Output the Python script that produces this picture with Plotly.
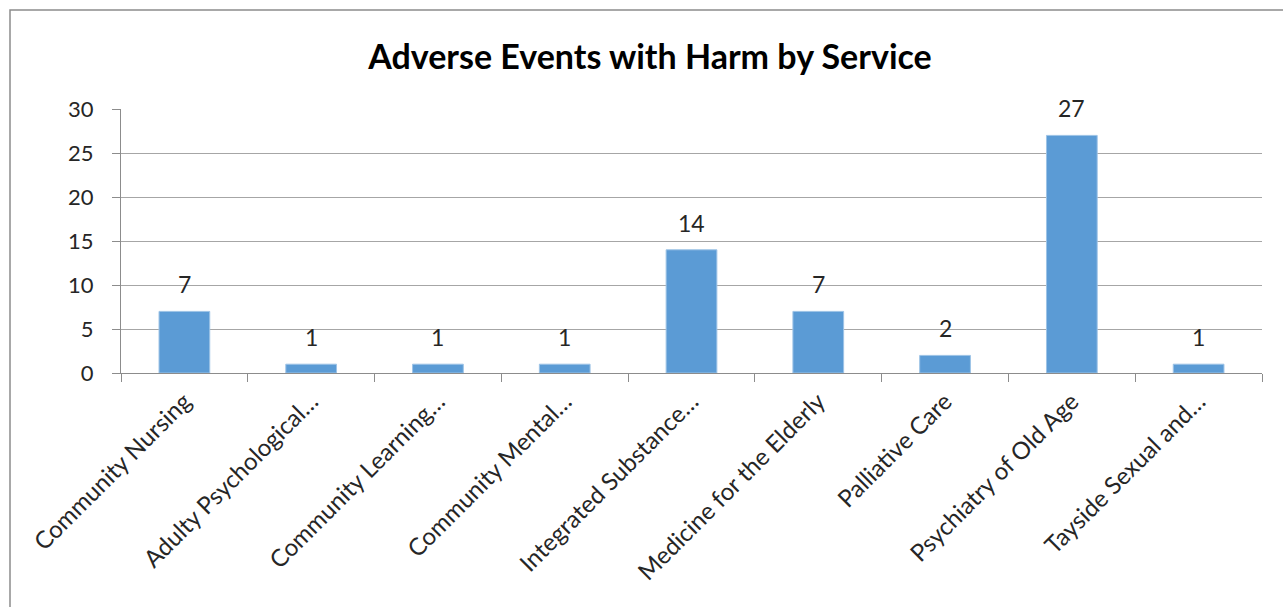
import plotly.graph_objects as go

categories = [
    "Community Nursing",
    "Adulty Psychological…",
    "Community Learning…",
    "Community Mental…",
    "Integrated Substance…",
    "Medicine for the Elderly",
    "Palliative Care",
    "Psychiatry of Old Age",
    "Tayside Sexual and…",
]
values = [7, 1, 1, 1, 14, 7, 2, 27, 1]
y_ticks = [0, 5, 10, 15, 20, 25, 30]

FONT = "Lato"
W, H = 1283, 607
L, R, T, B = 121, 21, 109, 234

fig = go.Figure()
fig.add_trace(go.Bar(
    x=categories, y=values,
    marker=dict(color="#5B9BD5", line=dict(color="#9DC3E6", width=1)),
    hoverinfo="x+y",
))

for c, v in zip(categories, values):
    fig.add_annotation(x=c, y=v, text=str(v), showarrow=False,
                       yanchor="bottom", yshift=11,
                       font=dict(family=FONT, size=23, color="#262626"))

pw = W - L - R
ph = H - T - B
fig.add_shape(type="rect", xref="paper", yref="paper",
              x0=(10 - L) / pw, x1=(W + 5 - L) / pw,
              y0=-(H + 5 - T - ph) / ph, y1=(H - 10 - B) / ph,
              line=dict(color="#8C8C8C", width=1.5), fillcolor="rgba(0,0,0,0)",
              layer="below")

fig.update_layout(
    width=W, height=H,
    margin=dict(l=L, r=R, t=T, b=B, autoexpand=False),
    paper_bgcolor="white", plot_bgcolor="white",
    bargap=0.6,
    showlegend=False,
    title=dict(text="<b>Adverse Events with Harm by Service</b>",
               x=(650) / W, xanchor="center", y=1 - 57 / H, yanchor="middle",
               font=dict(family=FONT, size=34, color="#000000")),
    font=dict(family=FONT, size=22, color="#262626"),
)
fig.update_xaxes(
    type="category", tickangle=-45, tickson="boundaries",
    ticks="outside", ticklen=8, tickcolor="#8C8C8C",
    showline=True, linecolor="#8C8C8C", linewidth=1,
    showgrid=False, tickfont=dict(family=FONT, size=24, color="#262626"),
    ticklabelstandoff=4,
)
fig.update_yaxes(
    range=[0, 30], tickvals=y_ticks, ticks="outside", ticklen=8,
    tickcolor="#8C8C8C", showline=True, linecolor="#8C8C8C", linewidth=1,
    showgrid=True, gridcolor="#A6A6A6", gridwidth=1, zeroline=False,
    tickfont=dict(family=FONT, size=22, color="#262626"),
    ticklabelstandoff=14,
)

fig.write_html("out.html")
